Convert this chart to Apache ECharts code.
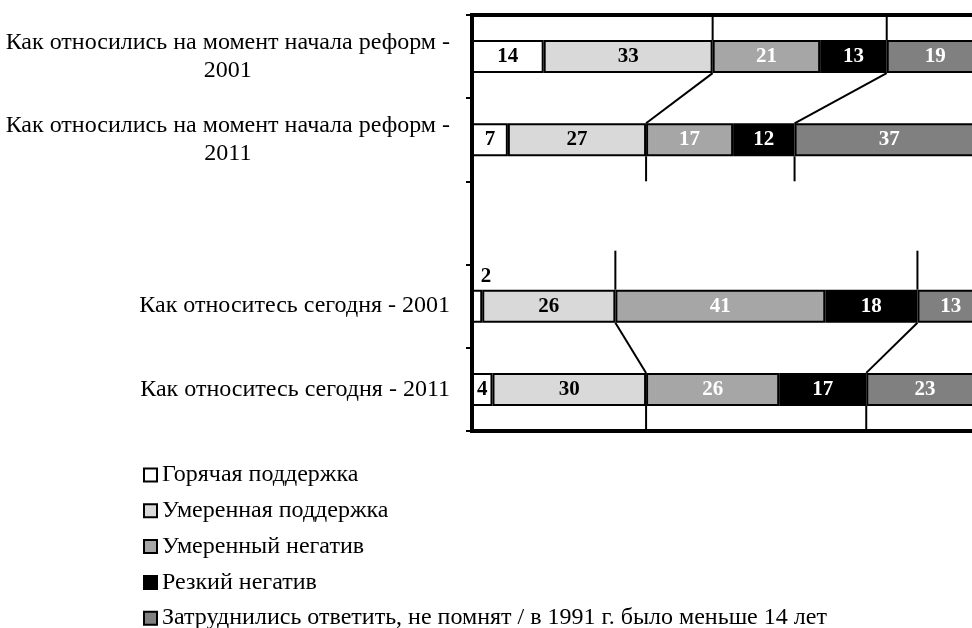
<!DOCTYPE html>
<html><head><meta charset="utf-8">
<script src="https://cdn.jsdelivr.net/npm/echarts@6/dist/echarts.min.js"></script>
<style>html,body{margin:0;padding:0;background:#fff}#c{width:972px;height:628px}</style>
</head><body><div id="c"></div>
<script>
const categories = ['Как относились на момент начала реформ -\n2001', 'Как относились на момент начала реформ -\n2011', '', 'Как относитесь сегодня - 2001', 'Как относитесь сегодня - 2011'];
const seriesNames = ['Горячая поддержка', 'Умеренная поддержка', 'Умеренный негатив', 'Резкий негатив', 'Затруднились ответить, не помнят / в 1991 г. было меньше 14 лет'];
const hotSupport = [14, 7, null, 2, 4];
const moderateSupport = [33, 27, null, 26, 30];
const moderateNegative = [21, 17, null, 41, 26];
const sharpNegative = [13, 12, null, 18, 17];
const dontKnow = [19, 37, null, 13, 23];
const seriesValues = [hotSupport, moderateSupport, moderateNegative, sharpNegative, dontKnow];
const colors = ['#ffffff', '#d9d9d9', '#a6a6a6', '#000000', '#808080'];
const labelColors = ['#000', '#000', '#fff', '#fff', '#fff'];
// connector ("series lines") pairs of categories and boundaries (after series index)
const connectorPairs = [[0, 1], [3, 4]];
const connectorAfter = [1, 3];

const FONT = 'Liberation Serif';
function cum(cat, upto) { let s = 0; for (let i = 0; i <= upto; i++) s += seriesValues[i][cat] || 0; return s; }

const connectorData = [];
connectorPairs.forEach(p => connectorAfter.forEach(k => connectorData.push([cum(p[0], k), p[0], cum(p[1], k), p[1]])));

const barSeries = seriesValues.map((vals, si) => ({
  name: seriesNames[si], type: 'bar', stack: 'total', barWidth: 33,
  itemStyle: { color: colors[si], borderColor: '#000', borderWidth: 2 },
  label: { show: true, position: 'inside', color: labelColors[si], fontFamily: FONT, fontWeight: 'bold', fontSize: 21 },
  data: vals.map(v => (v !== null && v < 3) ? { value: v, label: { position: 'top', offset: [9, 2], color: '#000' } } : v)
}));

const chart = echarts.init(document.getElementById('c'));
chart.setOption({
  animation: false,
  backgroundColor: '#fff',
  grid: { left: 472, top: 15, width: 512, height: 416, outerBoundsMode: 'none', show: true, borderColor: '#000', borderWidth: 4, backgroundColor: 'transparent' },
  xAxis: { type: 'value', min: 0, max: 100, show: false },
  yAxis: {
    type: 'category', inverse: true, data: categories,
    axisLine: { show: true, lineStyle: { color: '#000', width: 4 } },
    axisTick: { show: true, length: 6, lineStyle: { color: '#000', width: 2 } },
    axisLabel: {
      margin: 22, color: '#000', fontFamily: FONT, fontSize: 24, lineHeight: 28,
      formatter: v => v ? v.split('\n').map(l => '{c|' + l + '}').join('\n') : '',
      rich: { c: { align: 'center', fontFamily: FONT, fontSize: 24, lineHeight: 28, color: '#000' } }
    }
  },
  legend: {
    orient: 'vertical', left: 143, top: 463, height: 220, padding: 0, itemWidth: 13, itemHeight: 13, itemGap: 11.8,
    data: seriesNames, icon: 'rect',
    itemStyle: { borderColor: '#000', borderWidth: 2 },
    textStyle: { fontFamily: FONT, fontSize: 24, color: '#000' }
  },
  series: barSeries.concat([{
    type: 'custom', name: 'lines', z: 5, clip: false, silent: true,
    encode: { x: [0, 2], y: [1, 3] },
    data: connectorData,
    renderItem: function (params, api) {
      const a = api.coord([api.value(0), api.value(1)]);
      const b = api.coord([api.value(2), api.value(3)]);
      const half = 16.5;
      const topExt = [25, 39][Math.floor(params.dataIndex / 2)];
      const botExt = 25;
      const st = { stroke: '#000', lineWidth: 2 };
      return { type: 'group', children: [
        { type: 'line', shape: { x1: a[0], y1: a[1] - half - topExt, x2: a[0], y2: a[1] - half }, style: st },
        { type: 'line', shape: { x1: a[0], y1: a[1] + half, x2: b[0], y2: b[1] - half }, style: st },
        { type: 'line', shape: { x1: b[0], y1: b[1] + half, x2: b[0], y2: b[1] + half + botExt }, style: st }
      ] };
    }
  }])
});
</script></body></html>
